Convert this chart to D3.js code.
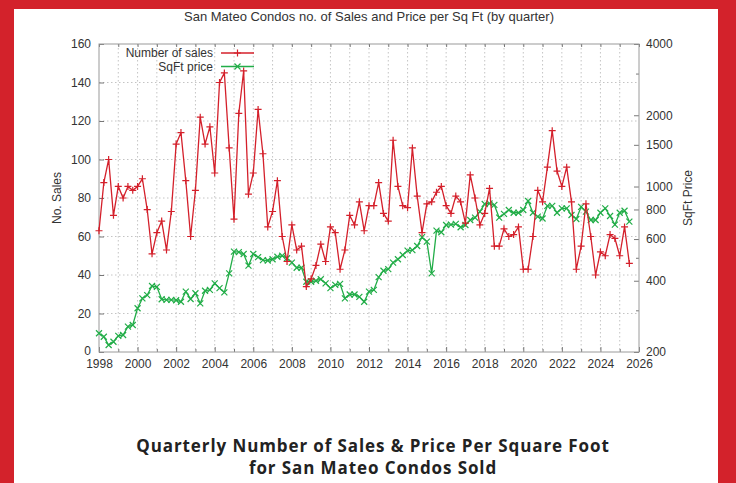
<!DOCTYPE html>
<html>
<head>
<meta charset="utf-8">
<script src="https://cdn.jsdelivr.net/npm/d3@7"></script>
<style>
  body { margin: 0; background: #fff; }
  svg { display: block; }
</style>
</head>
<body>
<div id="chart-area"></div>
<script>
// quarterly series, first point = 1998 Q1
const startYear = 1998;
const sales = [
  63, 88, 100, 71, 86, 80, 86, 84, 86, 90, 74, 51, 62, 68, 53, 73,
  108, 114, 89, 60, 84, 122, 108, 117, 93, 140, 145, 106, 69, 124, 146, 82,
  93, 126, 103, 65, 73, 89,
  60, 47, 66, 53, 55, 34, 38, 45, 56, 47, 65, 62, 43, 53, 71, 66,
  78, 63, 76, 76, 88, 72, 68, 110, 86, 76, 75, 106, 81, 62, 77, 78,
  83, 86, 76, 72, 81, 78,
  67, 92, 80, 66, 72, 85, 55, 55, 64, 60, 61, 65, 43, 43, 60, 84,
  78, 96, 115, 94, 86, 96, 78, 43, 55, 77, 60, 40, 52, 50, 61, 59,
  50, 65, 46
];
const sqftPrice = [
  240, 232, 214, 221, 234, 236, 256, 260, 306, 337, 348, 380, 377, 334, 332, 332,
  331, 326, 360, 335, 354, 321, 363, 366, 390, 372, 357, 430, 531, 528, 519, 463,
  519, 503, 489, 487, 493, 505,
  510, 498, 477, 454, 454, 396, 396, 400, 406, 390, 372, 384, 388, 337, 350, 350,
  342, 326, 360, 366, 414, 441, 448, 477, 493, 514, 536, 539, 561, 611, 585, 430,
  651, 641, 688, 690, 695, 673,
  688, 722, 739, 783, 844, 848, 836, 739, 766, 796, 775, 775, 796, 869, 775, 746,
  733, 828, 828, 775, 809, 809, 758, 729, 820, 783, 722, 722, 775, 809, 751, 690,
  775, 790, 711
];
const yearLabels = [1998, 2000, 2002, 2004, 2006, 2008, 2010, 2012, 2014, 2016, 2018, 2020, 2022, 2024, 2026];
const salesTicks = [0, 20, 40, 60, 80, 100, 120, 140, 160];
const priceLabels = [200, 400, 600, 800, 1000, 1500, 2000, 4000];
const priceMinor = [300, 500, 3000];
const seriesNames = ["Number of sales", "SqFt price"];

const W = 736, H = 483;
const plot = { left: 99, right: 639, top: 44, bottom: 352 };
const red = "#d4202b", green = "#22ad48", frameRed = "#d3222b";
const axisGrey = "#9a9a9a", textCol = "#333";

const svg = d3.select("#chart-area").append("svg")
  .attr("width", W).attr("height", H)
  .style("font-family", "'Liberation Sans', Arial, sans-serif");

svg.append("rect").attr("width", W).attr("height", H).attr("fill", "#fff");

const x = d3.scaleLinear().domain([1998, 2026]).range([plot.left, plot.right]);
const yL = d3.scaleLinear().domain([0, 160]).range([plot.bottom, plot.top]);
const yR = d3.scaleLog().domain([200, 4000]).range([plot.bottom, plot.top]);

const qx = (d, i) => x(startYear + i / 4);

// grid
const yearGrid = d3.range(1999, 2026);
svg.append("g").selectAll("line").data(yearGrid).join("line")
  .attr("x1", d => x(d)).attr("x2", d => x(d))
  .attr("y1", plot.top).attr("y2", plot.bottom)
  .attr("stroke", "#b5b5b5").attr("stroke-width", 0.8).attr("stroke-dasharray", "1.5,2.5");
svg.append("g").selectAll("line").data(salesTicks.slice(1, -1)).join("line")
  .attr("x1", plot.left).attr("x2", plot.right)
  .attr("y1", d => yL(d)).attr("y2", d => yL(d))
  .attr("stroke", "#b5b5b5").attr("stroke-width", 0.8).attr("stroke-dasharray", "1.5,2.5");

// axes
function styleAxis(g) {
  g.select(".domain").remove();
  g.selectAll(".tick line").attr("stroke", "#555").attr("stroke-width", 0.8);
  g.selectAll(".tick text").attr("fill", textCol).style("font-size", "12px");
}
svg.append("g").attr("transform", `translate(0,${plot.bottom})`)
  .call(d3.axisBottom(x).tickValues(d3.range(1998, 2027)).tickSize(-4).tickPadding(7)
    .tickFormat(d => yearLabels.includes(d) ? d : ""))
  .call(styleAxis)
  .call(g => g.selectAll(".tick line").attr("y2", d => yearLabels.includes(d) ? -5 : -3));
svg.append("g").attr("transform", `translate(0,${plot.top})`)
  .call(d3.axisTop(x).tickValues(d3.range(1998, 2027)).tickSize(-3).tickFormat(""))
  .call(styleAxis);
svg.append("g").attr("transform", `translate(${plot.left},0)`)
  .call(d3.axisLeft(yL).tickValues(salesTicks).tickSize(-5).tickPadding(8))
  .call(styleAxis)
  .call(g => g.selectAll(".tick text").attr("dy", d => d === 0 ? "0.2em" : "0.32em"));
svg.append("g").attr("transform", `translate(${plot.right},0)`)
  .call(d3.axisRight(yR).tickValues(priceLabels.concat(priceMinor)).tickSize(-5).tickPadding(7)
    .tickFormat(d => priceLabels.includes(d) ? d : ""))
  .call(styleAxis)
  .call(g => g.selectAll(".tick line").attr("x2", d => priceLabels.includes(d) ? -5 : -3));

svg.append("rect")
  .attr("x", plot.left).attr("y", plot.top)
  .attr("width", plot.right - plot.left).attr("height", plot.bottom - plot.top)
  .attr("fill", "none").attr("stroke", axisGrey).attr("stroke-width", 1);

// markers
function plus(sel, color) {
  sel.append("path").attr("d", "M-3.5,0H3.5M0,-3.5V3.5")
    .attr("stroke", color).attr("stroke-width", 1.2).attr("fill", "none");
}
function cross(sel, color) {
  sel.append("path").attr("d", "M-3,-3L3,3M-3,3L3,-3")
    .attr("stroke", color).attr("stroke-width", 1.2).attr("fill", "none");
}

// series lines
const salesLine = d3.line().x(qx).y(d => yL(d));
const priceLine = d3.line().x(qx).y(d => yR(d));

svg.append("path").datum(sqftPrice).attr("d", priceLine)
  .attr("fill", "none").attr("stroke", green).attr("stroke-width", 1.3);
svg.append("g").selectAll("g").data(sqftPrice).join("g")
  .attr("transform", (d, i) => `translate(${qx(d, i)},${yR(d)})`)
  .each(function () { cross(d3.select(this), green); });

svg.append("path").datum(sales).attr("d", salesLine)
  .attr("fill", "none").attr("stroke", red).attr("stroke-width", 1.3);
svg.append("g").selectAll("g").data(sales).join("g")
  .attr("transform", (d, i) => `translate(${qx(d, i)},${yL(d)})`)
  .each(function () { plus(d3.select(this), red); });

// legend
const legend = svg.append("g");
[red, green].forEach((c, i) => {
  const ly = 53 + i * 13.5;
  legend.append("text").attr("x", 213).attr("y", ly).attr("dy", "0.35em")
    .attr("text-anchor", "end").attr("fill", textCol).style("font-size", "12px")
    .text(seriesNames[i]);
  legend.append("line").attr("x1", 221).attr("x2", 254).attr("y1", ly).attr("y2", ly)
    .attr("stroke", c).attr("stroke-width", 1.3);
  const m = legend.append("g").attr("transform", `translate(237.5,${ly})`);
  if (i === 0) plus(m, c); else cross(m, c);
});

// titles
svg.append("text").attr("x", 369).attr("y", 21).attr("text-anchor", "middle")
  .attr("fill", textCol).style("font-size", "13px")
  .text("San Mateo Condos no. of Sales and Price per Sq Ft (by quarter)");
svg.append("text").attr("transform", `translate(61,${(plot.top + plot.bottom) / 2}) rotate(-90)`)
  .attr("text-anchor", "middle").attr("fill", textCol).style("font-size", "12px")
  .text("No. Sales");
svg.append("text").attr("transform", `translate(692,${(plot.top + plot.bottom) / 2}) rotate(-90)`)
  .attr("text-anchor", "middle").attr("fill", textCol).style("font-size", "12px")
  .text("SqFt Price");

const cap = svg.append("g").style("font-family", "'Open Sans', sans-serif")
  .style("font-weight", 700).style("font-size", "17px").style("letter-spacing", "0.9px")
  .attr("fill", "#222");
cap.append("text").attr("x", 373).attr("y", 452).attr("text-anchor", "middle")
  .text("Quarterly Number of Sales & Price Per Square Foot");
cap.append("text").attr("x", 373).attr("y", 474).attr("text-anchor", "middle")
  .text("for San Mateo Condos Sold");

// red frame
svg.append("rect").attr("x", 0).attr("y", 0).attr("width", W).attr("height", 9).attr("fill", frameRed);
svg.append("rect").attr("x", 0).attr("y", 0).attr("width", 14).attr("height", H).attr("fill", frameRed);
svg.append("rect").attr("x", 718).attr("y", 0).attr("width", 18).attr("height", H).attr("fill", frameRed);
</script>
</body>
</html>
